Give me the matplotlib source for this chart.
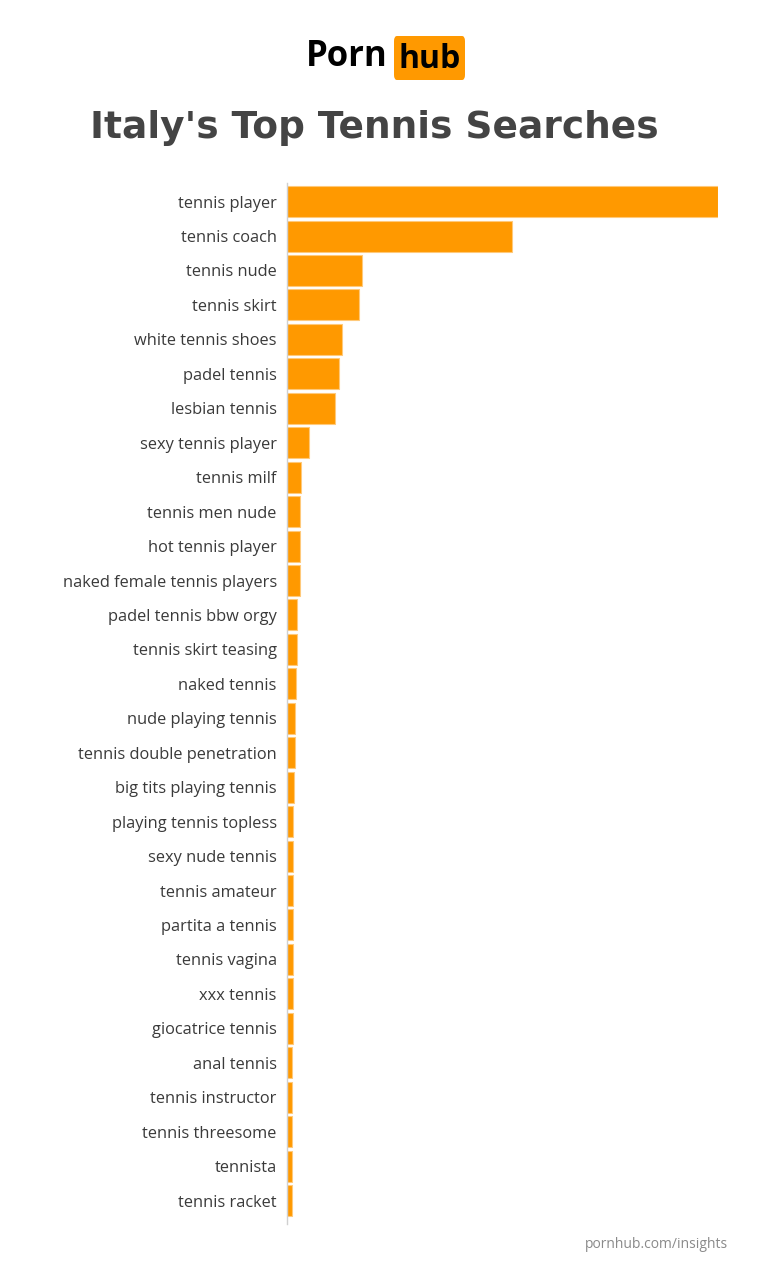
import matplotlib
matplotlib.use("Agg")
import matplotlib.pyplot as plt
from matplotlib.patches import FancyBboxPatch

categories = [
    "tennis player", "tennis coach", "tennis nude", "tennis skirt",
    "white tennis shoes", "padel tennis", "lesbian tennis", "sexy tennis player",
    "tennis milf", "tennis men nude", "hot tennis player", "naked female tennis players",
    "padel tennis bbw orgy", "tennis skirt teasing", "naked tennis", "nude playing tennis",
    "tennis double penetration", "big tits playing tennis", "playing tennis topless",
    "sexy nude tennis", "tennis amateur", "partita a tennis", "tennis vagina",
    "xxx tennis", "giocatrice tennis", "anal tennis", "tennis instructor",
    "tennis threesome", "tennista", "tennis racket",
]
values = [100, 52.3, 17.4, 16.9, 12.9, 12.1, 11.2, 5.3, 3.4, 3.2, 3.1, 3.1,
          2.5, 2.5, 2.2, 2.0, 1.9, 1.7, 1.5, 1.5, 1.5, 1.4, 1.4, 1.4, 1.4,
          1.3, 1.3, 1.3, 1.3, 1.2]

title = "Italy's Top Tennis Searches"
footer = "pornhub.com/insights"

W, H = 760, 1280
fig = plt.figure(figsize=(W / 100, H / 100), dpi=100)
fig.patch.set_facecolor("white")

left, right = 286.5, 718
top, bottom = 183, 1224
ax = fig.add_axes([left / W, 1 - bottom / H, (right - left) / W, (bottom - top) / H])

ypos = list(range(len(categories)))
ax.barh(ypos, values, height=0.9, color="#FF9900", edgecolor="#FFC97A", linewidth=0.8)
ax.set_xlim(0, 100)
ax.set_ylim(29.68, -0.54)
ax.set_yticks(ypos)
ax.set_yticklabels(categories, fontsize=11.8, color="#3a3a3a", family="Open Sans")
ax.tick_params(axis="y", length=0, pad=7)
ax.set_xticks([])
for s in ["top", "right", "bottom"]:
    ax.spines[s].set_visible(False)
ax.spines["left"].set_color("#d0d0d0")
ax.spines["left"].set_linewidth(1)

# Logo
fig.text(388 / W, 1 - 57 / H, "Porn", ha="right", va="center", fontsize=25,
         fontweight="bold", color="black", family="Open Sans")
box = FancyBboxPatch((394 / W, 1 - 80 / H), 71 / W, 44 / H,
                     boxstyle="round,pad=0,rounding_size=0.004",
                     transform=fig.transFigure, facecolor="#FF9900", edgecolor="none")
fig.add_artist(box)
fig.text(429.5 / W, 1 - 59 / H, "hub", ha="center", va="center", fontsize=23,
         fontweight="bold", color="black", family="Open Sans")

fig.text(374 / W, 1 - 128 / H, title, ha="center", va="center", fontsize=27,
         fontweight="bold", color="#444444", family="DejaVu Sans")

fig.text(728 / W, 1 - 1245 / H, footer, ha="right", va="center", fontsize=10,
         color="#8a8a8a", family="Open Sans")

fig.savefig("out.png", dpi=100, facecolor="white")
